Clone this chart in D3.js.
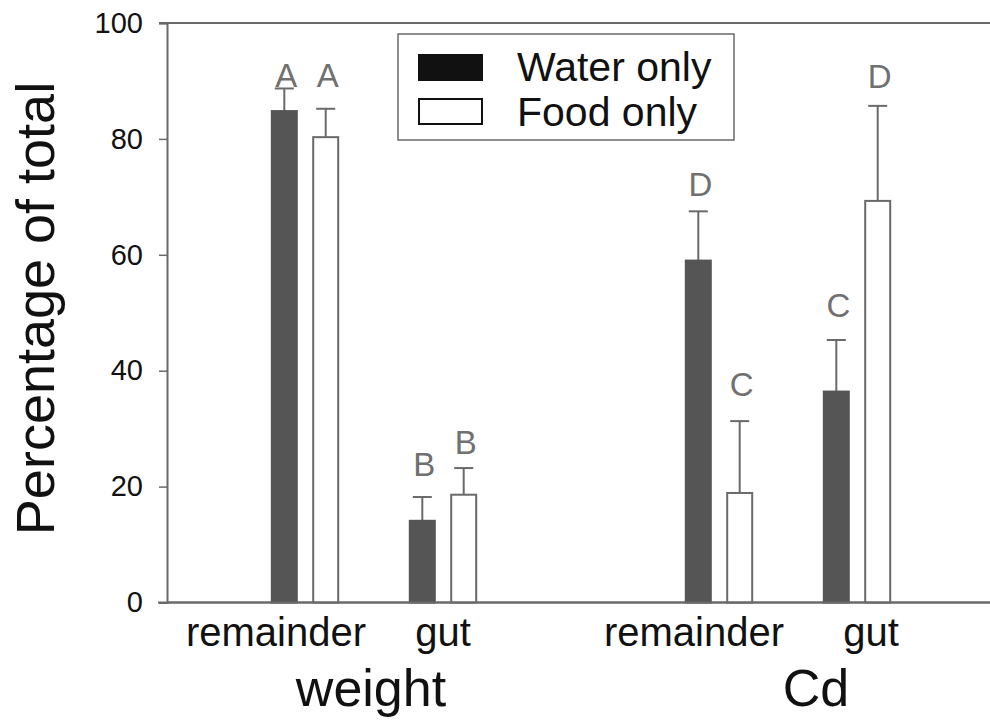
<!DOCTYPE html>
<html>
<head>
<meta charset="utf-8">
<script src="https://cdn.jsdelivr.net/npm/d3@7/dist/d3.min.js"></script>
<style>
  html, body { margin: 0; padding: 0; background: #fff; }
  svg { display: block; font-family: "Liberation Sans", Arial, Helvetica, sans-serif; }
</style>
</head>
<body>
<svg id="chart" width="990" height="723"></svg>
<script>
// Tissue distribution (percentage of total) of weight and Cd
const groupNames   = ["weight", "Cd"];
const groupOfPart  = [0, 0, 1, 1];
const partNames    = ["remainder", "gut", "remainder", "gut"];
const partSlots    = [1, 2, 4, 5];            // slot index along the x axis
const seriesNames  = ["Water only", "Food only"];

const waterMean    = [84.8, 14.1, 59.0, 36.4];
const waterSE      = [3.9, 4.1, 8.5, 8.9];
const foodMean     = [80.3, 18.6, 18.9, 69.3];
const foodSE       = [4.9, 4.6, 12.4, 16.4];

// significance letters and the level (in %) where each sits
const waterLetters = ["A", "B", "D", "C"];
const foodLetters  = ["A", "B", "C", "D"];
const waterLetterAt = [88.9, 21.9, 70.2, 49.2];
const foodLetterAt  = [88.9, 25.7, 35.7, 88.8];

const yTicks = [0, 20, 40, 60, 80, 100];

// ---- drawing ----
const svg = d3.select("#chart");
const plotLeft = 167, plotRight = 995, plotTop = 23, plotBottom = 602.5;
const lineCol = "#6a6a6a";

const x = d3.scaleLinear().domain([0, 6]).range([plotLeft, plotRight]);
const y = d3.scaleLinear().domain([0, 100]).range([plotBottom, plotTop]);

const barW = 25;
const barShift = 20.7;

// frame lines (top and bottom run to the right edge)
svg.append("line").attr("x1", plotLeft - 8).attr("x2", 990)
  .attr("y1", y(100)).attr("y2", y(100))
  .attr("stroke", lineCol).attr("stroke-width", 2);
svg.append("line").attr("x1", plotLeft - 9).attr("x2", 990)
  .attr("y1", y(0)).attr("y2", y(0))
  .attr("stroke", lineCol).attr("stroke-width", 2);

// y axis
const yAxis = d3.axisLeft(y).tickValues(yTicks).tickSize(8).tickPadding(16).tickFormat(d3.format("d"));
const gy = svg.append("g").attr("transform", `translate(${plotLeft},0)`).call(yAxis);
gy.select(".domain").attr("stroke", lineCol).attr("stroke-width", 2);
gy.selectAll(".tick line").attr("stroke", lineCol).attr("stroke-width", 1.5);
gy.selectAll(".tick text")
  .attr("fill", "#111")
  .style("font-size", "29px")
  .style("font-family", "'Liberation Sans', Arial, sans-serif");

// y axis title
svg.append("text")
  .attr("transform", `translate(54,${(80 + 537) / 2}) rotate(-90)`)
  .attr("text-anchor", "middle")
  .attr("fill", "#111")
  .style("font-size", "54px")
  .text("Percentage of total");

// bars
const series = [
  { mean: waterMean, se: waterSE, letters: waterLetters, letterAt: waterLetterAt, shift: -barShift, fill: "#555555", stroke: "#555555" },
  { mean: foodMean,  se: foodSE,  letters: foodLetters,  letterAt: foodLetterAt,  shift:  barShift, fill: "#ffffff", stroke: lineCol }
];

series.forEach(s => {
  const g = svg.append("g");
  const rows = partSlots.map((p, i) => ({ p, v: s.mean[i], e: s.se[i], l: s.letters[i], la: s.letterAt[i] }));

  // error bars (upper only)
  g.selectAll("line.err").data(rows).join("line").attr("class", "err")
    .attr("x1", d => x(d.p) + s.shift).attr("x2", d => x(d.p) + s.shift)
    .attr("y1", d => y(d.v)).attr("y2", d => y(d.v + d.e))
    .attr("stroke", lineCol).attr("stroke-width", 2);
  g.selectAll("line.cap").data(rows).join("line").attr("class", "cap")
    .attr("x1", d => x(d.p) + s.shift - 9.5).attr("x2", d => x(d.p) + s.shift + 9.5)
    .attr("y1", d => y(d.v + d.e)).attr("y2", d => y(d.v + d.e))
    .attr("stroke", lineCol).attr("stroke-width", 2);

  g.selectAll("rect").data(rows).join("rect")
    .attr("x", d => x(d.p) + s.shift - barW / 2)
    .attr("width", barW)
    .attr("y", d => y(d.v))
    .attr("height", d => y(0) - y(d.v))
    .attr("fill", s.fill)
    .attr("stroke", s.stroke)
    .attr("stroke-width", 2);

  g.selectAll("text").data(rows).join("text")
    .attr("x", d => x(d.p) + s.shift + 2)
    .attr("y", d => y(d.la))
    .attr("text-anchor", "middle")
    .attr("fill", "#707070")
    .style("font-size", "33px")
    .text(d => d.l);
});

// redraw baseline over bar bottoms
svg.append("line").attr("x1", plotLeft).attr("x2", 990)
  .attr("y1", y(0)).attr("y2", y(0))
  .attr("stroke", lineCol).attr("stroke-width", 2);

// category labels under the bars
const partLabelShift = [-29, 0, -25, 14];
svg.append("g").selectAll("text").data(partNames).join("text")
  .attr("x", (d, i) => x(partSlots[i]) + partLabelShift[i])
  .attr("y", 646)
  .attr("text-anchor", "middle")
  .attr("fill", "#111")
  .style("font-size", "40px")
  .text(d => d);

// group labels
const groupCenters = groupNames.map((g, gi) => d3.mean(partSlots.filter((p, i) => groupOfPart[i] === gi)));
const groupLabelShift = [-3, 28];
svg.append("g").selectAll("text").data(groupNames).join("text")
  .attr("x", (d, i) => x(groupCenters[i]) + groupLabelShift[i])
  .attr("y", 706)
  .attr("text-anchor", "middle")
  .attr("fill", "#111")
  .style("font-size", "52px")
  .text(d => d);

// legend
const lg = svg.append("g");
lg.append("rect").attr("x", 398).attr("y", 34).attr("width", 336).attr("height", 106)
  .attr("fill", "#fff").attr("stroke", lineCol).attr("stroke-width", 1.5);
const legendFill = ["#111", "#fff"];
seriesNames.forEach((name, i) => {
  lg.append("rect").attr("x", 419).attr("y", 55 + i * 44).attr("width", 63).attr("height", 25)
    .attr("fill", legendFill[i]).attr("stroke", "#111").attr("stroke-width", 2);
  lg.append("text").attr("x", 517).attr("y", 81 + i * 45)
    .attr("fill", "#111")
    .style("font-size", "41px")
    .text(name);
});
</script>
</body>
</html>
